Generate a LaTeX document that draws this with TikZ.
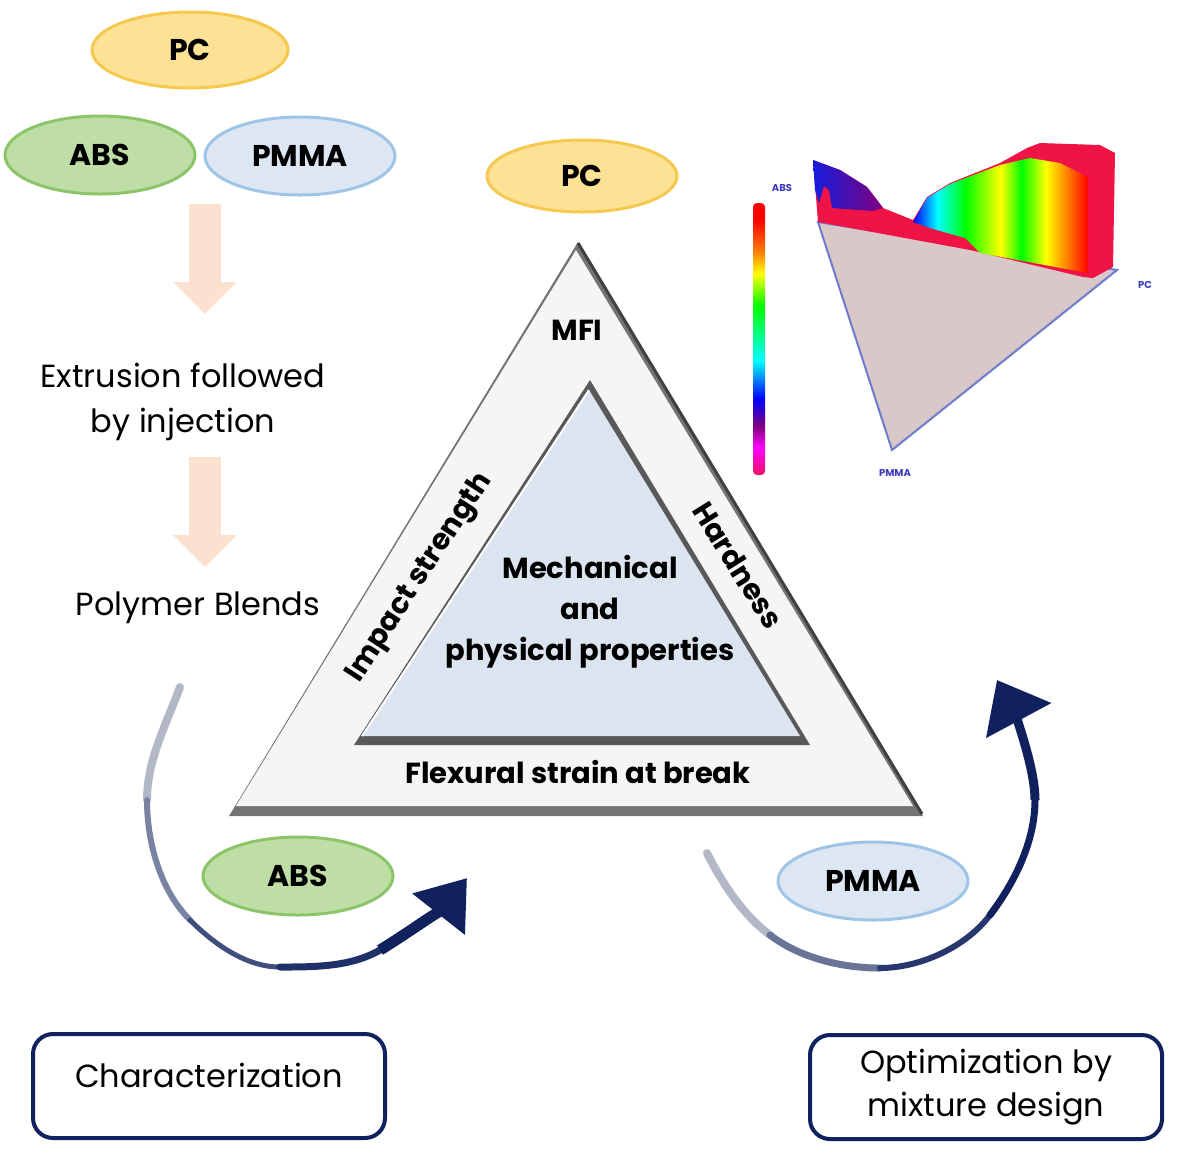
\documentclass[tikz,border=0pt]{standalone}
\usepackage{fontspec}
\setmainfont{Poppins}
\usepackage{tikz}
\usetikzlibrary{shapes,arrows.meta,positioning}

\definecolor{pcfill}{RGB}{253,226,150}
\definecolor{pcline}{RGB}{245,200,80}
\definecolor{absfill}{RGB}{190,222,165}
\definecolor{absline}{RGB}{140,196,105}
\definecolor{pmmafill}{RGB}{221,231,243}
\definecolor{pmmaline}{RGB}{160,196,230}
\definecolor{peach}{RGB}{252,224,208}
\definecolor{navy}{RGB}{16,33,94}
\definecolor{fade}{RGB}{178,184,198}
\definecolor{trifill}{RGB}{245,245,245}
\definecolor{propfill}{RGB}{220,228,240}
\definecolor{surfred}{RGB}{240,20,70}
\definecolor{pinkred}{RGB}{235,20,100}
\definecolor{basefill}{RGB}{216,200,200}
\definecolor{baseline}{RGB}{110,122,205}
\definecolor{labblue}{RGB}{60,60,190}
\definecolor{spikeblue}{RGB}{20,30,220}

\pgfdeclareverticalshading{rainbowv}{100bp}{color(0bp)=(pinkred); color(25bp)=(pinkred); color(30bp)=(magenta); color(34bp)=(violet); color(39bp)=(blue); color(46bp)=(cyan); color(56bp)=(green); color(62bp)=(yellow); color(66bp)=(orange); color(72bp)=(red); color(100bp)=(red)}
\pgfdeclarehorizontalshading{rainbowh}{100bp}{color(0bp)=(blue); color(25bp)=(blue); color(32bp)=(cyan); color(40bp)=(green); color(50bp)=(yellow); color(56bp)=(green); color(63bp)=(yellow); color(69bp)=(orange); color(75bp)=(red); color(100bp)=(red)}

\begin{document}
\begin{tikzpicture}[x=0.5pt,y=-0.5pt,font=\fontsize{16}{19}\selectfont]
    \tikzstyle{blob}=[ellipse,minimum width=95pt,minimum height=39pt,inner sep=0pt,line width=1.5pt,font=\fontsize{15}{18}\selectfont\bfseries]
    \tikzstyle{PC}=[blob,fill=pcfill,draw=pcline]         % polycarbonate
    \tikzstyle{ABS}=[blob,fill=absfill,draw=absline]      % ABS
    \tikzstyle{PMMA}=[blob,fill=pmmafill,draw=pmmaline]   % PMMA
    \tikzstyle{flow}=[align=center]
    \tikzstyle{edgelab}=[font=\fontsize{14.5}{20.5}\selectfont\bfseries]
    \tikzstyle{goal}=[rectangle,rounded corners=10pt,draw=navy,line width=2pt,minimum width=176pt,minimum height=52pt,align=center]
    \tikzstyle{blockdown}=[peach,line width=16pt,-{Triangle[width=31pt,length=16pt]}]
    \tikzstyle{plotlab}=[font=\fontsize{5}{6}\selectfont\bfseries,text=labblue,inner sep=0pt]

    \useasboundingbox (0,0) rectangle (1181,1153);

    % blend components
    \node[PC,minimum width=98pt,minimum height=38pt] (pcTop) at (190,50) {PC};
    \node[ABS] (absTop) at (100,155) {ABS};
    \node[PMMA] (pmmaTop) at (300,156) {PMMA};

    % processing route
    \coordinate (d1a) at (205,204);
    \coordinate (d1b) at (205,314);
    \coordinate (d2a) at (205,457);
    \coordinate (d2b) at (205,567);
    \draw[blockdown] (d1a) -- (d1b);
    \draw[blockdown] (d2a) -- (d2b);
    \node[flow,font=\fontsize{16}{22.5}\selectfont] (extrusion) at (183,402) {Extrusion followed\\by injection};
    \node (blends) at (198,608) {Polymer Blends};

    % property triangle
    \fill[black!55] (578,242) -- (923,816) -- (229,816) -- cycle;
    \fill[trifill] (576,250) -- (913,806) -- (236,806) -- cycle;
    \draw[black!75,line width=1.5pt] (578,243) -- (922,814);
    \fill[black!65] (590,380) -- (810,745) -- (354,745) -- cycle;
    \fill[propfill] (589,390) -- (800,736) -- (362,736) -- cycle;
    \draw[white,line width=1pt] (589,390) -- (362,736);

    \node[edgelab] (mfi) at (577,330) {MFI};
    \node[edgelab,rotate=57] (impact) at (420,578) {Impact strength};
    \node[edgelab,rotate=-58] (hardness) at (738,565) {Hardness};
    \node[edgelab] (flexural) at (578,772) {Flexural strain at break};
    \node[edgelab,align=center] (props) at (590,612) {Mechanical\\and\\physical properties};

    \node[PC,minimum height=36pt] (pcMid) at (582,176) {PC};
    \node[ABS] (absLow) at (298,876) {ABS};
    \node[PMMA] (pmmaLow) at (873,881) {PMMA};

    % left loop
    \coordinate (lStart) at (180,687);
    \coordinate (l1) at (147,800);
    \coordinate (l2) at (190,920);
    \coordinate (l3) at (280,967);
    \coordinate (l4) at (380,950);
    \coordinate (lTip) at (467,878);
    \draw[fade,line width=4pt,line cap=round] (lStart) .. controls (166,725) and (147,760) .. (l1);
    \draw[navy!35!fade,line width=3pt,line cap=round] (l1) .. controls (147,842) and (160,890) .. (l2);
    \draw[navy!70!fade,line width=2.5pt,line cap=round] (l2) .. controls (214,944) and (246,967) .. (l3);
    \draw[navy!90!fade,line width=3.5pt,line cap=round] (l3) .. controls (314,967) and (351,967) .. (l4);
    \draw[navy,line width=5.5pt,-{Triangle[width=32pt,length=23pt]}] (l4) .. controls (405,935) and (445,906) .. (lTip);

    % right loop
    \coordinate (rStart) at (707,853);
    \coordinate (r1) at (770,935);
    \coordinate (r2) at (880,968);
    \coordinate (r3) at (990,915);
    \coordinate (r4) at (1035,800);
    \coordinate (rTip) at (997,680);
    \draw[fade,line width=4pt,line cap=round] (rStart) .. controls (722,883) and (743,915) .. (r1);
    \draw[navy!45!fade,line width=3.5pt,line cap=round] (r1) .. controls (800,958) and (842,968) .. (r2);
    \draw[navy!85!fade,line width=3pt,line cap=round] (r2) .. controls (920,968) and (966,947) .. (r3);
    \draw[navy,line width=3.5pt,line cap=round] (r3) .. controls (1015,882) and (1035,841) .. (r4);
    \draw[navy,line width=4.5pt,-{Triangle[width=36pt,length=23pt]}] (r4) .. controls (1035,765) and (1012,708) .. (rTip);

    % mixture design plot
    \shade[shading=rainbowv,rounded corners=2pt] (753,203) rectangle (765,475);
    \filldraw[fill=basefill,draw=baseline,line width=1pt] (818,222) -- (1117,270) -- (892,450) -- cycle;
    \fill[surfred] (813,160) -- (840,170) -- (867,187) -- (877,200) -- (883,208) -- (913,220) -- (927,197) -- (950,183) -- (1000,163) -- (1027,148) -- (1040,143) -- (1100,145) -- (1115,153) -- (1113,267) -- (1093,278) -- (1083,277) -- (970,250) -- (818,222) -- cycle;
    \shade[left color=spikeblue,right color=violet] (813,160) -- (840,170) -- (867,187) -- (877,200) -- (883,208) -- (873,211) -- (832,208) -- (829,190) -- (824,186) -- (819,203) -- (815,190) -- cycle;
    \shade[shading=rainbowh] (913,222) -- (927,198) -- (950,184) -- (1000,165) -- (1030,158) -- (1060,163) -- (1088,177) -- (1088,273) -- (980,253) -- (965,238) -- (930,228) -- cycle;
    \node[plotlab] (absLab) at (782,188) {ABS};
    \node[plotlab] (pcLab) at (1145,285) {PC};
    \node[plotlab] (pmmaLab) at (895,473) {PMMA};

    % outcomes
    \node[goal,text height=11pt,text depth=10pt] (charBox) at (209,1086) {Characterization};
    \node[goal,font=\fontsize{16}{21.5}\selectfont] (optBox) at (986,1087) {Optimization by\\mixture design};
\end{tikzpicture}
\end{document}
